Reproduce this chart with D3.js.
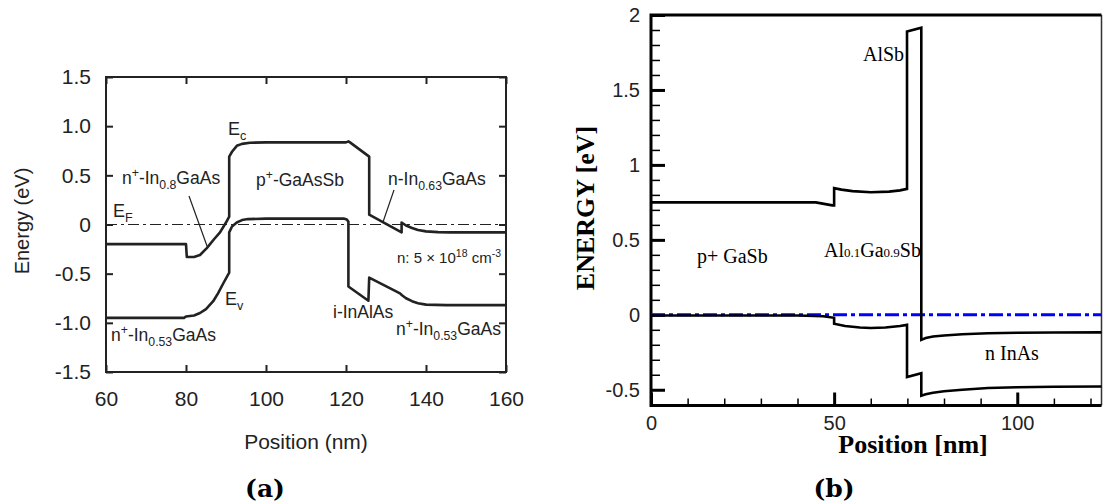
<!DOCTYPE html>
<html>
<head>
<meta charset="utf-8">
<script src="https://cdn.jsdelivr.net/npm/d3@7"></script>
<style>
  body { margin: 0; background: #fff; }
  svg { display: block; }
  .sans { font-family: "Liberation Sans", Arial, sans-serif; fill: #222; }
  .serif { font-family: "Liberation Serif", "Times New Roman", serif; fill: #000; }
</style>
</head>
<body>
<div id="chart"></div>
<script>
// ---- panel (a) data: position (nm), energy (eV)
var ecA = [[60,-0.2],[80,-0.2],[80.2,-0.33],[82,-0.33],[83.5,-0.31],[85.2,-0.24],[87,-0.15],[88.5,-0.08],[90,0.02],[90.8,0.08],
  [90.8,0.69],[91.5,0.74],[92.7,0.80],[94,0.82],[96,0.832],[100,0.835],[110,0.835],[120,0.835],[120.6,0.845],[121,0.835],
  [125.8,0.69],[125.8,0.10],[133.9,-0.08],[133.9,0.02],[135,-0.01],[136.5,-0.035],[138,-0.055],[140,-0.07],[143,-0.078],[146,-0.08],[160,-0.08]];
var evA = [[60,-0.95],[79.5,-0.95],[80,-0.935],[82,-0.925],[83.5,-0.9],[85,-0.86],[86.8,-0.78],[88,-0.7],[89.3,-0.6],[90.8,-0.49],
  [90.8,-0.08],[91.5,-0.02],[92.7,0.02],[94,0.045],[95.5,0.055],[100,0.06],[119.4,0.06],[120.2,0.05],[120.6,0.03],
  [120.6,-0.63],[125.6,-0.775],[125.8,-0.54],[133.5,-0.70],[134,-0.72],[135,-0.75],[136.5,-0.78],[138,-0.80],[140,-0.815],[145,-0.82],[160,-0.82]];
var efA = [[60,0],[160,0]];
var xTicksA = [60,80,100,120,140,160];
var yTicksA = [-1.5,-1,-0.5,0,0.5,1,1.5];

// ---- panel (b) data
var ecB = [[0,0.75],[45,0.75],[49.5,0.73],[50,0.73],[50,0.845],[52,0.835],[55,0.825],[60,0.818],[65,0.822],[68,0.83],[69.9,0.84],
  [69.9,1.89],[73.8,1.915],[73.8,-0.167],[75,-0.155],[77,-0.145],[80,-0.138],[85,-0.13],[92,-0.123],[100,-0.12],[110,-0.118],[123,-0.117]];
var evB = [[0,-0.005],[40,-0.005],[47,-0.01],[50,-0.02],[50,-0.06],[53,-0.075],[57,-0.085],[60,-0.088],[64,-0.085],[68,-0.075],[69.9,-0.067],
  [69.9,-0.415],[73.8,-0.39],[73.8,-0.54],[75,-0.53],[77,-0.52],[80,-0.51],[85,-0.5],[92,-0.488],[100,-0.483],[110,-0.48],[123,-0.478]];
var efB = [[0,0],[123,0]];
var xMajorB = [0,50,100];
var xMinorB = [10,20,30,40,60,70,80,90,110,120];
var yMajorB = [-0.5,0,0.5,1,1.5,2];
var yMinorB = [-0.6,-0.4,-0.3,-0.2,-0.1,0.1,0.2,0.3,0.4,0.6,0.7,0.8,0.9,1.1,1.2,1.3,1.4,1.6,1.7,1.8,1.9];

var svg = d3.select("#chart").append("svg")
  .attr("width", 1103).attr("height", 504);

// rich text: parts = [[text, 'n'|'sub'|'sup'|'small', scale], ...]
function rich(g, x, y, parts, size, cls) {
  var t = g.append("text").attr("class", cls).attr("x", x).attr("y", y).style("font-size", size + "px");
  var shift = 0;
  parts.forEach(function (p) {
    var target = p[1] === "sub" ? size * 0.3 : p[1] === "sup" ? -size * 0.38 : 0;
    t.append("tspan")
      .attr("dy", target - shift)
      .style("font-size", (p[1] === "n" ? size : size * (p[2] || 0.7)) + "px")
      .text(p[0]);
    shift = target;
  });
  return t;
}

// ================= panel (a)
var xA = d3.scaleLinear().domain([60, 160]).range([106, 506]);
var yA = d3.scaleLinear().domain([-1.5, 1.5]).range([372, 77]);
var gA = svg.append("g");

function styleAxis(g, stroke, width) {
  g.select(".domain").remove();
  g.selectAll(".tick line").attr("stroke", stroke).attr("stroke-width", width);
}

var fmtA = function (d) { return d === 0 ? "0" : d.toFixed(1); };
gA.append("g").attr("transform", "translate(106,0)")
  .call(d3.axisLeft(yA).tickValues(yTicksA).tickSizeInner(-7).tickSizeOuter(0).tickPadding(15).tickFormat(fmtA))
  .call(styleAxis, "#222", 2)
  .selectAll("text").attr("class", "sans").style("font-size", "21px").attr("fill", "#222");
gA.append("g").attr("transform", "translate(506,0)")
  .call(d3.axisRight(yA).tickValues(yTicksA).tickSizeInner(-7).tickSizeOuter(0).tickFormat(""))
  .call(styleAxis, "#222", 2);
gA.append("g").attr("transform", "translate(0,372)")
  .call(d3.axisBottom(xA).tickValues(xTicksA).tickSizeInner(-7).tickSizeOuter(0).tickPadding(19))
  .call(styleAxis, "#222", 2)
  .selectAll("text").attr("class", "sans").style("font-size", "21px").attr("fill", "#222");
gA.append("g").attr("transform", "translate(0,77)")
  .call(d3.axisTop(xA).tickValues(xTicksA).tickSizeInner(-7).tickSizeOuter(0).tickFormat(""))
  .call(styleAxis, "#222", 2);

gA.append("rect").attr("x", xA(60)).attr("y", yA(1.5))
  .attr("width", xA(160) - xA(60)).attr("height", yA(-1.5) - yA(1.5))
  .attr("fill", "none").attr("stroke", "#222").attr("stroke-width", 2);

var lineA = d3.line().x(function (d) { return xA(d[0]); }).y(function (d) { return yA(d[1]); });
gA.append("path").datum(efA).attr("d", lineA).attr("fill", "none")
  .attr("stroke", "#222").attr("stroke-width", 1.2).attr("stroke-dasharray", "11,4,3,4");
[ecA, evA].forEach(function (s) {
  gA.append("path").datum(s).attr("d", lineA).attr("fill", "none")
    .attr("stroke", "#222").attr("stroke-width", 2.6).attr("stroke-linejoin", "round");
});

// leader lines
gA.append("line").attr("x1", 189).attr("y1", 196).attr("x2", 207).attr("y2", 246).attr("stroke", "#222").attr("stroke-width", 1.2);
gA.append("line").attr("x1", 394).attr("y1", 190).attr("x2", 383).attr("y2", 222).attr("stroke", "#222").attr("stroke-width", 1.2);

rich(gA, 228, 135, [["E", "n"], ["c", "sub"]], 18, "sans");
rich(gA, 113, 217, [["E", "n"], ["F", "sub"]], 18, "sans");
rich(gA, 225, 305, [["E", "n"], ["v", "sub"]], 18, "sans");
rich(gA, 122, 184, [["n", "n"], ["+", "sup"], ["-In", "n"], ["0.8", "sub"], ["GaAs", "n"]], 17.5, "sans");
rich(gA, 256, 186, [["p", "n"], ["+", "sup"], ["-GaAsSb", "n"]], 17.5, "sans");
rich(gA, 388, 185, [["n-In", "n"], ["0.63", "sub"], ["GaAs", "n"]], 17.5, "sans");
rich(gA, 397, 263, [["n: 5 × 10", "n"], ["18", "sup"], [" cm", "n"], ["-3", "sup"]], 15, "sans");
rich(gA, 333, 318, [["i-InAlAs", "n"]], 17.5, "sans");
rich(gA, 111, 341, [["n", "n"], ["+", "sup"], ["-In", "n"], ["0.53", "sub"], ["GaAs", "n"]], 17.5, "sans");
rich(gA, 396, 335, [["n", "n"], ["+", "sup"], ["-In", "n"], ["0.53", "sub"], ["GaAs", "n"]], 17.5, "sans");

gA.append("text").attr("class", "sans").attr("transform", "translate(29,221) rotate(-90)")
  .attr("text-anchor", "middle").style("font-size", "20px").text("Energy (eV)");
gA.append("text").attr("class", "sans").attr("x", 306).attr("y", 449)
  .attr("text-anchor", "middle").style("font-size", "21px").text("Position (nm)");
gA.append("text").attr("x", 265).attr("y", 497).attr("text-anchor", "middle")
  .style("font-family", "'DejaVu Serif', serif").style("font-weight", "bold").style("font-size", "25px").text("(a)");

// ================= panel (b)
var xB = d3.scaleLinear().domain([0, 123]).range([651, 1101.5]);
var yB = d3.scaleLinear().domain([-0.605, 2]).range([405.5, 15]);
var gB = svg.append("g");

var fmtB = function (d) { return String(d); };
gB.append("g").attr("transform", "translate(651,0)")
  .call(d3.axisLeft(yB).tickValues(yMinorB).tickSizeInner(-9).tickSizeOuter(0).tickFormat(""))
  .call(styleAxis, "#000", 1.5);
gB.append("g").attr("transform", "translate(651,0)")
  .call(d3.axisLeft(yB).tickValues(yMajorB).tickSizeInner(-14).tickSizeOuter(0).tickPadding(11).tickFormat(fmtB))
  .call(styleAxis, "#000", 3)
  .selectAll("text").attr("class", "sans").style("font-size", "20px").attr("fill", "#000");
gB.append("g").attr("transform", "translate(0,405.5)")
  .call(d3.axisBottom(xB).tickValues(xMinorB).tickSizeInner(-7).tickSizeOuter(0).tickFormat(""))
  .call(styleAxis, "#000", 1.5);
gB.append("g").attr("transform", "translate(0,405.5)")
  .call(d3.axisBottom(xB).tickValues(xMajorB).tickSizeInner(-13).tickSizeOuter(0).tickPadding(10))
  .call(styleAxis, "#000", 3)
  .selectAll("text").attr("class", "sans").style("font-size", "20px").attr("fill", "#000");

// frame
gB.append("line").attr("x1", xB(123)).attr("x2", xB(123)).attr("y1", yB(2)).attr("y2", yB(-0.605))
  .attr("stroke", "#333").attr("stroke-width", 1.5);
gB.append("path").attr("d", "M" + xB(123) + "," + yB(2) + "H" + xB(0) + "V" + yB(-0.605) + "H" + xB(123))
  .attr("fill", "none").attr("stroke", "#000").attr("stroke-width", 3);

var lineB = d3.line().x(function (d) { return xB(d[0]); }).y(function (d) { return yB(d[1]); });
gB.append("path").datum(efB).attr("d", lineB).attr("fill", "none")
  .attr("stroke", "#0000ff").attr("stroke-width", 3).attr("stroke-dasharray", "14,4,4,4");
[ecB, evB].forEach(function (s) {
  gB.append("path").datum(s).attr("d", lineB).attr("fill", "none")
    .attr("stroke", "#000").attr("stroke-width", 2.6);
});

rich(gB, 863, 61, [["AlSb", "n"]], 20, "serif");
rich(gB, 697, 263, [["p+ GaSb", "n"]], 20, "serif");
rich(gB, 824, 257, [["Al", "n"], ["0.1", "small", 0.65], ["Ga", "n"], ["0.9", "small", 0.65], ["Sb", "n"]], 20, "serif");
rich(gB, 985, 360, [["n InAs", "n"]], 20, "serif");

gB.append("text").attr("class", "serif").attr("transform", "translate(594,208) rotate(-90)")
  .attr("text-anchor", "middle").style("font-size", "26px").style("font-weight", "bold").text("ENERGY [eV]");
gB.append("text").attr("class", "serif").attr("x", 913).attr("y", 453)
  .attr("text-anchor", "middle").style("font-size", "26px").style("font-weight", "bold").text("Position [nm]");
gB.append("text").attr("x", 834).attr("y", 497).attr("text-anchor", "middle")
  .style("font-family", "'DejaVu Serif', serif").style("font-weight", "bold").style("font-size", "25px").text("(b)");
</script>
</body>
</html>
